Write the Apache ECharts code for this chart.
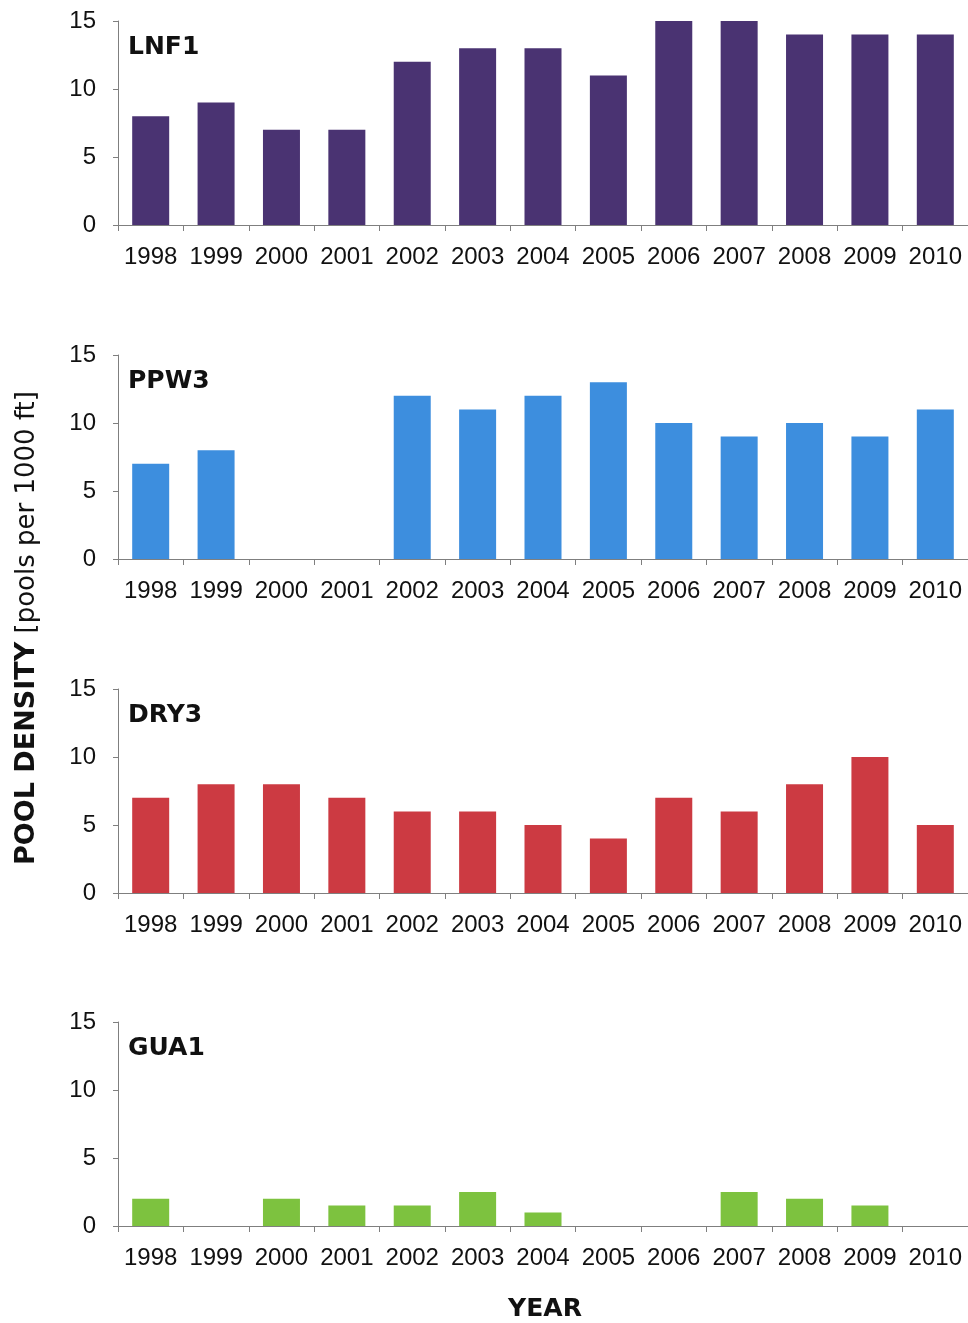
<!DOCTYPE html>
<html>
<head>
<meta charset="utf-8">
<script src="https://cdn.jsdelivr.net/npm/echarts@6/dist/echarts.min.js"></script>
<style>
  html, body { margin: 0; padding: 0; background: #ffffff; }
  #chart { width: 968px; height: 1323px; }
</style>
</head>
<body>
<div id="chart"></div>
<script>
// ---- data ----
const years = ['1998','1999','2000','2001','2002','2003','2004','2005','2006','2007','2008','2009','2010'];
const siteNames = ['LNF1', 'PPW3', 'DRY3', 'GUA1'];
const lnf1 = [8, 9, 7, 7, 12, 13, 13, 11, 15, 15, 14, 14, 14];
const ppw3 = [7, 8, null, null, 12, 11, 12, 13, 10, 9, 10, 9, 11];
const dry3 = [7, 8, 8, 7, 6, 6, 5, 4, 7, 6, 8, 10, 5];
const gua1 = [2, 0, 2, 1.5, 1.5, 2.5, 1, 0, 0, 2.5, 2, 1.5, 0];
const yTicks = [0, 5, 10, 15];

// ---- styling ----
const seriesData = [lnf1, ppw3, dry3, gua1];
const colors = ['#4a3372', '#3d8ede', '#cc3a42', '#7dc23f'];
const gridTops = [21, 355, 689, 1022];
const gridLeft = 118, gridWidth = 852, gridHeight = 204;
const axisColor = '#7f7f7f';
const labelFont = '"Liberation Sans", Arial, sans-serif';

const chart = echarts.init(document.getElementById('chart'), null, { renderer: 'canvas' });

const grids = [], xAxes = [], yAxes = [], series = [], graphics = [];
gridTops.forEach((top, i) => {
  grids.push({ left: gridLeft, top: top, width: gridWidth, height: gridHeight, containLabel: false });
  xAxes.push({
    type: 'category', gridIndex: i, data: years, boundaryGap: true,
    axisLine: { show: true, lineStyle: { color: axisColor, width: 1 } },
    axisTick: { show: true, alignWithLabel: false, length: 6, lineStyle: { color: axisColor } },
    axisLabel: { show: true, color: '#111', fontFamily: labelFont, fontSize: 24, margin: 20, interval: 0 },
    splitLine: { show: false }
  });
  yAxes.push({
    type: 'value', gridIndex: i, min: 0, max: 15, interval: 5,
    axisLine: { show: true, lineStyle: { color: axisColor, width: 1 } },
    axisTick: { show: true, length: 5, lineStyle: { color: axisColor } },
    axisLabel: {
      show: true, color: '#111', fontFamily: labelFont, fontSize: 24, margin: 22,
      formatter: v => (yTicks.indexOf(v) >= 0 ? String(v) : '')
    },
    splitLine: { show: false }
  });
  series.push({
    type: 'bar', name: siteNames[i], xAxisIndex: i, yAxisIndex: i,
    data: seriesData[i], barWidth: 37,
    itemStyle: { color: colors[i], borderWidth: 0 },
    emphasis: { disabled: true }, animation: false
  });
  graphics.push({
    type: 'text', left: gridLeft + 10, top: top + 14,
    style: { text: siteNames[i], font: 'bold 25px "DejaVu Sans", sans-serif', fill: '#111' }
  });
});

graphics.push({
  type: 'text', x: 27, y: 628, rotation: Math.PI / 2,
  style: {
    text: '{b|POOL DENSITY}{r|\u00a0[pools per 1000 ft]}',
    align: 'center', verticalAlign: 'middle',
    rich: {
      b: { font: 'bold 27px "DejaVu Sans", sans-serif', fill: '#111' },
      r: { font: '26px "DejaVu Sans", sans-serif', fill: '#111' }
    }
  }
});
graphics.push({
  type: 'text', x: 545, y: 1309,
  style: { text: 'YEAR', font: 'bold 25px "DejaVu Sans", sans-serif', fill: '#111', align: 'center', verticalAlign: 'middle' }
});

chart.setOption({
  backgroundColor: '#ffffff',
  animation: false,
  grid: grids,
  xAxis: xAxes,
  yAxis: yAxes,
  series: series,
  graphic: graphics
});
</script>
</body>
</html>
